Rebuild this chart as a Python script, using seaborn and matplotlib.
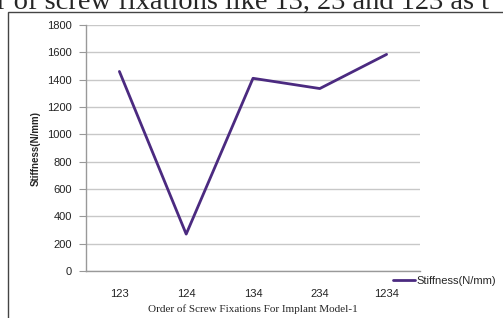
import matplotlib
matplotlib.use("Agg")
import matplotlib.pyplot as plt
import matplotlib.patches as mpatches
import pandas as pd
import seaborn as sns

# screw fixation order vs stiffness
orders = ['123', '124', '134', '234', '1234']
stiffness = [1460, 270, 1410, 1335, 1585]
yticks = [0, 200, 400, 600, 800, 1000, 1200, 1400, 1600, 1800]

df = pd.DataFrame({'order': orders, 'Stiffness(N/mm)': stiffness})

sns.set_style("white")
plt.rcParams['font.family'] = ['Liberation Sans', 'DejaVu Sans']

fig = plt.figure(figsize=(5.03, 3.18), dpi=100)
ax = fig.add_axes([86/503, 1-271/318, (420-86)/503, (271-25)/318])

sns.lineplot(data=df, x='order', y='Stiffness(N/mm)', ax=ax, sort=False,
             color='#4b2a80', linewidth=2.0, legend=False)

ax.set_xlim(-0.5, len(orders)-0.5)
ax.set_ylim(0, 1800)
ax.set_yticks(yticks)
ax.set_yticklabels([str(t) for t in yticks], fontsize=8, color='#222222')
ax.set_xticks(range(len(orders)))
ax.set_xticklabels(orders, fontsize=8, color='#222222')
ax.tick_params(axis='y', length=5, color='#999999', width=0.8, pad=5, left=True)
ax.tick_params(axis='x', length=0, pad=13, bottom=True)
ax.grid(axis='y', color='#c8c8c8', linewidth=1.0)
ax.set_axisbelow(True)
for s in ['top', 'right']:
    ax.spines[s].set_visible(False)
for s in ['left', 'bottom']:
    ax.spines[s].set_color('#999999')
    ax.spines[s].set_linewidth(1.0)

ax.set_ylabel('Stiffness(N/mm)', fontsize=7, fontweight='bold', labelpad=5)
ax.set_xlabel('Order of Screw Fixations For Implant Model-1', fontsize=8,
              family=['Liberation Serif'], labelpad=4)

handles = [plt.Line2D([], [], color='#4b2a80', linewidth=2.0)]
fig.legend(handles, ['Stiffness(N/mm)'], loc='center left',
           bbox_to_anchor=(393/503, 1-281/318), frameon=False, fontsize=8,
           handlelength=2.0, handletextpad=0.1, borderpad=0, borderaxespad=0)

# outer frame of the chart box
fig.patches.append(mpatches.Rectangle((8/503, -0.1), 1.2, 1-12/318+0.1,
                                      transform=fig.transFigure, fill=False,
                                      edgecolor='#444444', linewidth=1.0))

# cut-off line of paper text above the chart
fig.text(-0.005, 1-9/318, 'r of screw fixations like 13, 23 and 123 as t',
         fontsize=20.5, family=['Liberation Serif'], va='baseline', ha='left')

fig.savefig('out.png', dpi=100)
